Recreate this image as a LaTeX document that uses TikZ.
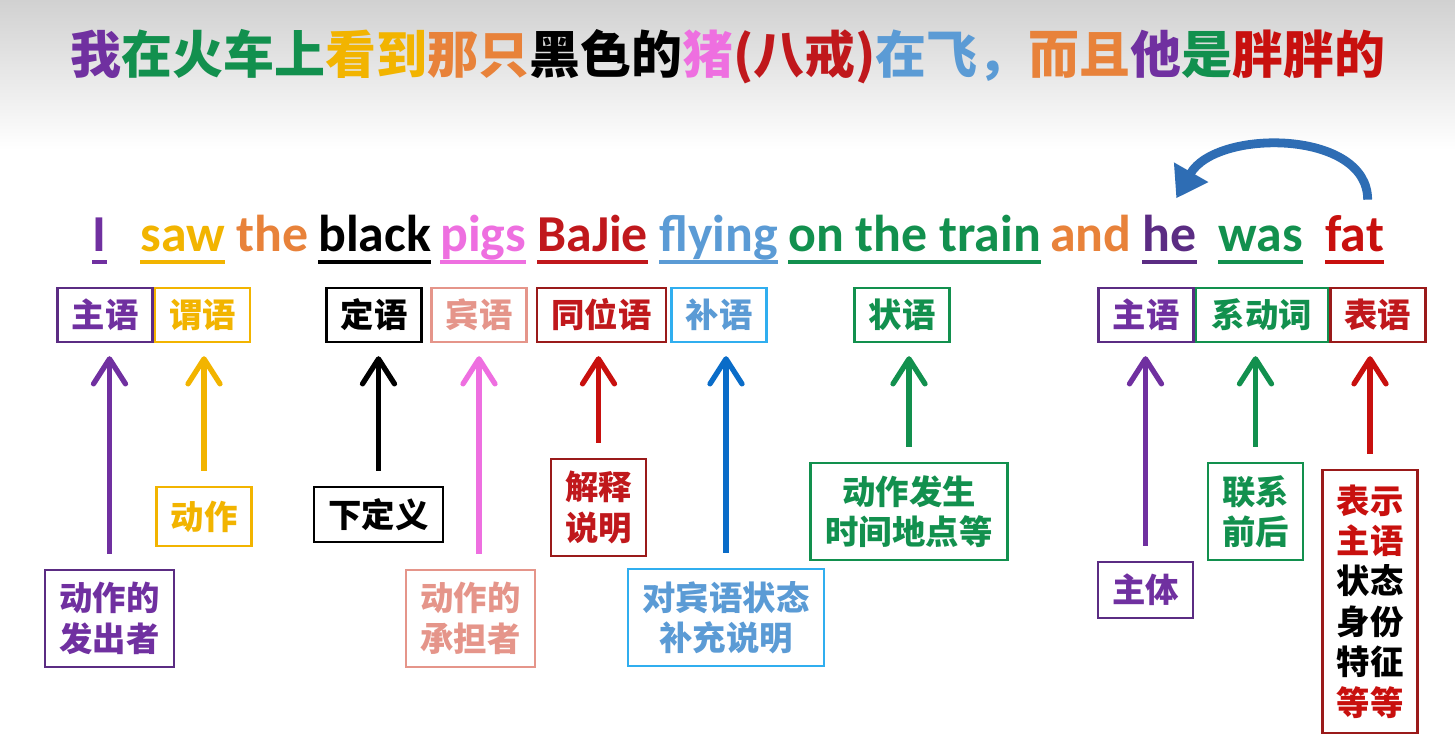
\documentclass[tikz,border=0pt]{standalone}
\usepackage{fontspec}
\setmainfont{Carlito}
\newfontfamily\cjk{Noto Sans CJK SC}
\usetikzlibrary{positioning,arrows.meta}

\definecolor{morado}{HTML}{7030A0}
\definecolor{moradoosc}{HTML}{5B2C83}
\definecolor{verde}{HTML}{12904E}
\definecolor{oro}{HTML}{F2B400}
\definecolor{naranja}{HTML}{E8823A}
\definecolor{rosa}{HTML}{EE6FE0}
\definecolor{salmon}{HTML}{E5958A}
\definecolor{granate}{HTML}{C0181C}
\definecolor{vino}{HTML}{9A1A1A}
\definecolor{celeste}{HTML}{5B9BD5}
\definecolor{cielo}{HTML}{30AEEF}
\definecolor{azul}{HTML}{0A6CC8}
\definecolor{rojo}{HTML}{C8100E}
\definecolor{curvazul}{HTML}{2E6DB4}

\begin{document}
\begin{tikzpicture}[
    x=0.02cm, y=-0.02cm,
    titulo/.style={font=\cjk\bfseries\fontsize{29}{32}\selectfont, inner sep=0pt},
    palabra/.style={font=\bfseries\fontsize{29.5}{32}\selectfont, anchor=base west,
                    inner sep=0pt, text=#1},
    subrayado/.style={draw=#1, line width=2pt},
    funcion/.style 2 args={draw=#1, text=#2, line width=1.4pt, minimum width=19mm,
                           minimum height=10.8mm, inner sep=0pt,
                           font=\cjk\bfseries\fontsize{19}{21}\selectfont},
    nota/.style 2 args={draw=#1, text=#2, line width=1.4pt, align=center, inner sep=0pt,
                        font=\cjk\bfseries\fontsize{19}{23}\selectfont},
    flecha/.style={draw=#1, line width=3pt, -{Straight Barb[round, length=5mm, width=6.4mm]},
                   shorten <=3mm, shorten >=2.6mm},
    curva/.style={draw=curvazul, line width=5pt, -{Triangle[length=6mm, width=7.5mm]}}
]

\fill[white] (0,0) rectangle (1455,751);
\shade[top color=black!18, bottom color=white] (0,0) rectangle (1455,150);

\node[titulo] (titulo) at (728,57) {\textcolor{morado}{我}\textcolor{verde}{在火车上}\textcolor{oro}{看到}\textcolor{naranja}{那只}黑色的\textcolor{rosa}{猪}\textcolor{granate}{(八戒)}\textcolor{celeste}{在飞，}\textcolor{naranja}{而且}\textcolor{morado}{他}\textcolor{verde}{是}\textcolor{rojo}{胖胖的}};

% la frase
\node[palabra=morado]    (yo)      at (92,251)   {I};
\node[palabra=oro]       (vi)      at (140,251)  {saw};
\node[palabra=naranja]   (art)     at (236,251)  {the};
\node[palabra=black]     (negro)   at (318,251)  {black};
\node[palabra=rosa]      (cerdos)  at (440,251)  {pigs};
\node[palabra=granate]   (bajie)   at (537,251)  {BaJie};
\node[palabra=celeste]   (volando) at (659,251)  {flying};
\node[palabra=verde]     (tren)    at (788,251)  {on the train};
\node[palabra=naranja]   (conj)    at (1050,251) {and};
\node[palabra=moradoosc] (el)      at (1142,251) {he};
\node[palabra=verde]     (era)     at (1218,251) {was};
\node[palabra=rojo]      (gordo)   at (1325,251) {fat};

\draw[subrayado=morado]    ([yshift=-2.2mm]yo.base west)      -- ([yshift=-2.2mm]yo.base east);
\draw[subrayado=oro]       ([yshift=-2.2mm]vi.base west)      -- ([yshift=-2.2mm]vi.base east);
\draw[subrayado=black]     ([yshift=-2.2mm]negro.base west)   -- ([yshift=-2.2mm]negro.base east);
\draw[subrayado=rosa]      ([yshift=-2.2mm]cerdos.base west)  -- ([yshift=-2.2mm]cerdos.base east);
\draw[subrayado=granate]   ([yshift=-2.2mm]bajie.base west)   -- ([yshift=-2.2mm]bajie.base east);
\draw[subrayado=celeste]   ([yshift=-2.2mm]volando.base west) -- ([yshift=-2.2mm]volando.base east);
\draw[subrayado=verde]     ([yshift=-2.2mm]tren.base west)    -- ([yshift=-2.2mm]tren.base east);
\draw[subrayado=moradoosc] ([yshift=-2.2mm]el.base west)      -- ([yshift=-2.2mm]el.base east);
\draw[subrayado=verde]     ([yshift=-2.2mm]era.base west)     -- ([yshift=-2.2mm]era.base east);
\draw[subrayado=rojo]      ([yshift=-2.2mm]gordo.base west)   -- ([yshift=-2.2mm]gordo.base east);

\draw[curva] ([xshift=2.6mm,yshift=3mm]gordo.north) .. controls +(0,-70) and +(40,-70) .. ([xshift=1.4mm,yshift=3.2mm]el.north);

% funciones
\node[funcion={moradoosc}{morado}]           (suj)   at (105,315)  {主语};
\node[funcion={oro}{oro}, right=0pt of suj]  (pred)                {谓语};
\node[funcion={black}{black}]                (atr)   at (374,315)  {定语};
\node[funcion={salmon}{salmon}]              (obj)   at (479,315)  {宾语};
\node[funcion={vino}{granate}, minimum width=25.8mm] (apo) at (601.5,315) {同位语};
\node[funcion={cielo}{celeste}]              (comp)  at (719,315)  {补语};
\node[funcion={verde}{verde}]                (adv)   at (902,315)  {状语};
\node[funcion={moradoosc}{morado}]           (suj2)  at (1146,315) {主语};
\node[funcion={verde}{verde}, minimum width=26.4mm, right=0pt of suj2] (cop) {系动词};
\node[funcion={vino}{granate}, right=0pt of cop] (atrib) {表语};

% notas
\node[nota={moradoosc}{morado}, minimum width=25.8mm, minimum height=19.4mm] (emisor)   at (109.5,618.5) {动作的\\发出者};
\node[nota={oro}{oro}, minimum width=19mm, minimum height=11.8mm]            (accion)   at (204,516.5)   {动作};
\node[nota={black}{black}, minimum width=25.8mm, minimum height=11mm]        (definir)  at (378.5,514.5) {下定义};
\node[nota={salmon}{salmon}, minimum width=25.8mm, minimum height=19.4mm]    (receptor) at (470.5,618.5) {动作的\\承担者};
\node[nota={vino}{granate}, minimum width=19mm, minimum height=19.4mm]       (explica)  at (598.5,507.5) {解释\\说明};
\node[nota={cielo}{celeste}, minimum width=39.2mm, minimum height=19.4mm]    (completa) at (726,617.5)   {对宾语状态\\补充说明};
\node[nota={verde}{verde}, minimum width=39.4mm, minimum height=19.4mm]      (lugar)    at (909,511.5)   {动作发生\\时间地点等};
\node[nota={moradoosc}{morado}, minimum width=19mm, minimum height=11.2mm]   (sujeto)   at (1145.5,590)  {主体};
\node[nota={verde}{verde}, minimum width=19mm, minimum height=19.4mm]        (enlace)   at (1255.5,511.5) {联系\\前后};
\node[nota={vino}{black}, minimum width=19mm, minimum height=52.6mm]         (estado)   at (1370,601.5)  {\textcolor{rojo}{表示}\\\textcolor{rojo}{主语}\\状态\\身份\\特征\\\textcolor{rojo}{等等}};

% flechas
\draw[flecha=morado]  (emisor.north)   -- (emisor.north |- suj.south);
\draw[flecha=oro]     (accion.north)   -- (accion.north |- pred.south);
\draw[flecha=black]   (definir.north)  -- (definir.north |- atr.south);
\draw[flecha=rosa]    (receptor.north -| obj.south) -- (obj.south);
\draw[flecha=rojo]    (explica.north)  -- (explica.north |- apo.south);
\draw[flecha=azul]    (completa.north) -- (completa.north |- comp.south);
\draw[flecha=verde]   (lugar.north)    -- (lugar.north |- adv.south);
\draw[flecha=morado]  (sujeto.north)   -- (sujeto.north |- suj2.south);
\draw[flecha=verde]   (enlace.north)   -- (enlace.north |- cop.south);
\draw[flecha=rojo]    (estado.north)   -- (estado.north |- atrib.south);

\end{tikzpicture}
\end{document}
